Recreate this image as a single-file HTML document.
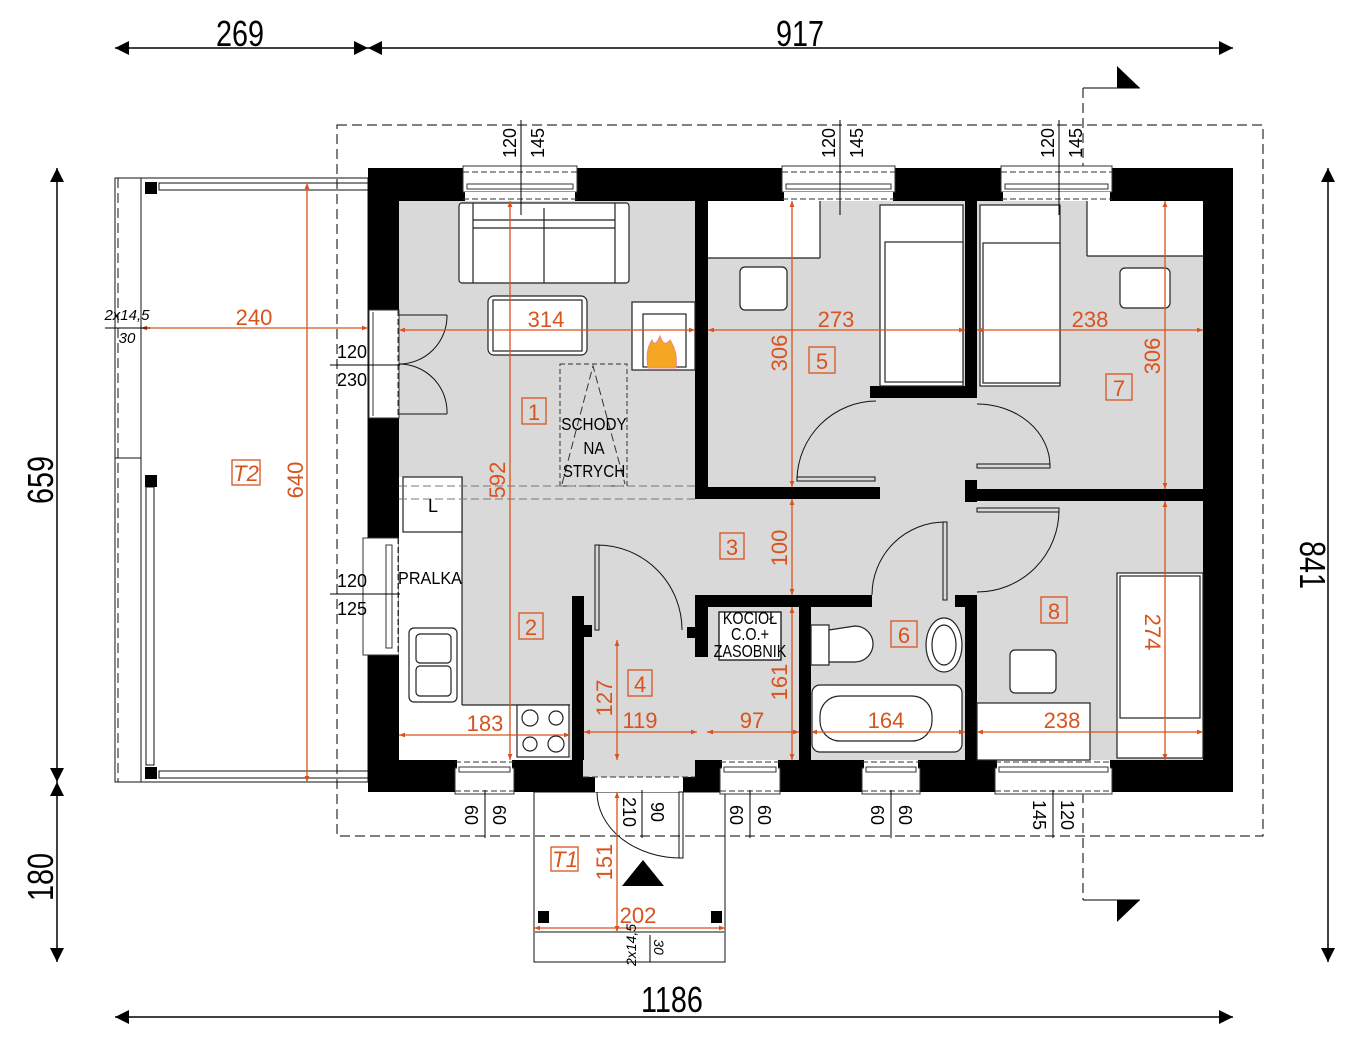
<!DOCTYPE html>
<html><head><meta charset="utf-8"><style>
html,body{margin:0;padding:0;background:#fff;}
svg{display:block;}
text{font-family:"Liberation Sans",sans-serif;}
.o{fill:#d9531e;font-size:22px;text-anchor:middle;}
.b{fill:#000;font-size:18px;text-anchor:middle;}
.big{fill:#000;font-size:36px;text-anchor:middle;}
.ol{stroke:#d9531e;stroke-width:1.3;fill:none;}
.f{fill:#fff;stroke:#222;stroke-width:1.2;}
.t{fill:none;stroke:#111;stroke-width:1;}
</style></head><body>
<svg width="1368" height="1050" viewBox="0 0 1368 1050" xmlns="http://www.w3.org/2000/svg">
<defs>
<marker id="ao" viewBox="0 0 10 10" refX="10" refY="5" markerWidth="12" markerHeight="6" orient="auto-start-reverse" markerUnits="userSpaceOnUse"><path d="M0,1 L10,5 L0,9z" fill="#d9531e"/></marker>
<marker id="ab" viewBox="0 0 10 10" refX="10" refY="5" markerWidth="28" markerHeight="14" orient="auto-start-reverse" markerUnits="userSpaceOnUse"><path d="M0,0 L10,5 L0,10z" fill="#000"/></marker>
</defs>

<g stroke="#000" stroke-width="1.5" fill="none">
<line x1="115" y1="48" x2="368" y2="48" marker-start="url(#ab)" marker-end="url(#ab)"/>
<line x1="368" y1="48" x2="1233" y2="48" marker-start="url(#ab)" marker-end="url(#ab)"/>
<line x1="115" y1="1017" x2="1233" y2="1017" marker-start="url(#ab)" marker-end="url(#ab)"/>
<line x1="57" y1="168" x2="57" y2="782" marker-start="url(#ab)" marker-end="url(#ab)"/>
<line x1="57" y1="782" x2="57" y2="962" marker-start="url(#ab)" marker-end="url(#ab)"/>
<line x1="1328" y1="168" x2="1328" y2="962" marker-start="url(#ab)" marker-end="url(#ab)"/>
</g>
<text class="big" transform="translate(240,46) scale(0.8,1)">269</text>
<text class="big" transform="translate(800,46) scale(0.8,1)">917</text>
<text class="big" transform="translate(672,1012) scale(0.8,1)">1186</text>
<text class="big" transform="translate(53,480) rotate(-90) scale(0.8,1)">659</text>
<text class="big" transform="translate(53,877) rotate(-90) scale(0.8,1)">180</text>
<text class="big" transform="translate(1300,565) rotate(90) scale(0.8,1)">841</text>

<rect x="337" y="125" width="926" height="711" fill="none" stroke="#000" stroke-width="1" stroke-dasharray="10,5"/>
<line x1="1083" y1="88" x2="1083" y2="900" stroke="#000" stroke-width="1" stroke-dasharray="10,5"/>
<polyline points="1083,88 1140,88" stroke="#000" fill="none"/>
<polyline points="1083,900 1140,900" stroke="#000" fill="none"/>
<path d="M1117,66 L1140,88 L1117,88z" fill="#000"/>
<path d="M1117,900 L1140,900 L1117,922z" fill="#000"/>

<g class="t">
<rect x="115" y="178" width="253" height="604"/>
<line x1="141" y1="178" x2="141" y2="782"/>
<rect x="115" y="178" width="26" height="280"/>
<line x1="118" y1="178" x2="118" y2="782" stroke-dasharray="10,5"/>
<rect x="159" y="183" width="209" height="7"/>
<rect x="159" y="771" width="209" height="7"/>
<rect x="146" y="487" width="8" height="278"/>
</g>
<rect x="145" y="182" width="12" height="12" fill="#000"/>
<rect x="145" y="475" width="12" height="12" fill="#000"/>
<rect x="145" y="767" width="12" height="12" fill="#000"/>

<g class="t">
<rect x="534" y="792" width="191" height="170"/>
<line x1="534" y1="932" x2="725" y2="932" stroke="#888" stroke-width="2"/>
</g>
<rect x="538" y="911" width="11" height="12" fill="#000"/>
<rect x="711" y="911" width="11" height="12" fill="#000"/>
<path d="M622,886 L664,886 L643,860z" fill="#000"/>

<rect x="399" y="201" width="804" height="559" fill="#d9d9d9"/>

<g fill="#000">
<rect x="368" y="168" width="865" height="33"/>
<rect x="368" y="760" width="865" height="32"/>
<rect x="368" y="168" width="31" height="624"/>
<rect x="1203" y="168" width="30" height="624"/>
<rect x="695" y="201" width="13" height="298"/>
<rect x="695" y="487" width="185" height="12"/>
<rect x="870" y="386" width="107" height="12"/>
<rect x="965" y="201" width="12" height="197"/>
<rect x="965" y="480" width="12" height="22"/>
<rect x="977" y="489" width="226" height="12"/>
<rect x="695" y="595" width="177" height="12"/>
<rect x="695" y="595" width="13" height="62"/>
<rect x="687" y="627" width="10" height="11"/>
<rect x="955" y="595" width="22" height="12"/>
<rect x="965" y="595" width="12" height="165"/>
<rect x="799" y="607" width="12" height="153"/>
<rect x="572" y="596" width="12" height="164"/>
<rect x="583" y="625" width="9" height="12"/>
</g>

<g fill="#fff" stroke="#333" stroke-width="1">
<rect x="463" y="166" width="114" height="26"/>
<rect x="782" y="166" width="113" height="26"/>
<rect x="1001" y="166" width="111" height="26"/>
<rect x="455" y="768" width="59" height="26"/>
<rect x="720" y="768" width="60" height="26"/>
<rect x="862" y="768" width="58" height="26"/>
<rect x="995" y="768" width="117" height="26"/>
<rect x="363" y="538" width="36" height="117"/>
<rect x="369" y="310" width="30" height="108"/>
</g>
<rect x="465" y="192" width="110" height="9" fill="#fff"/>
<rect x="784" y="192" width="109" height="9" fill="#fff"/>
<rect x="1003" y="192" width="107" height="9" fill="#fff"/>
<rect x="457" y="760" width="55" height="9" fill="#fff"/>
<rect x="722" y="760" width="56" height="9" fill="#fff"/>
<rect x="864" y="760" width="54" height="9" fill="#fff"/>
<rect x="997" y="760" width="113" height="9" fill="#fff"/>
<rect x="583" y="760" width="112" height="17" fill="#d9d9d9"/>
<rect x="595" y="777" width="88" height="15" fill="#fff"/>
<g stroke="#333" stroke-width="1" fill="none">
<line x1="463" y1="172" x2="577" y2="172" stroke-dasharray="6,3"/><rect x="467" y="184" width="106" height="5"/><line x1="463" y1="199" x2="577" y2="199" stroke-dasharray="6,3"/>
<line x1="782" y1="172" x2="895" y2="172" stroke-dasharray="6,3"/><rect x="786" y="184" width="105" height="5"/><line x1="782" y1="199" x2="895" y2="199" stroke-dasharray="6,3"/>
<line x1="1001" y1="172" x2="1112" y2="172" stroke-dasharray="6,3"/><rect x="1005" y="184" width="103" height="5"/><line x1="1001" y1="199" x2="1112" y2="199" stroke-dasharray="6,3"/>
<line x1="455" y1="762" x2="514" y2="762" stroke-dasharray="6,3"/><rect x="459" y="767" width="51" height="5"/><line x1="455" y1="791" x2="514" y2="791" stroke-dasharray="6,3"/>
<line x1="720" y1="762" x2="780" y2="762" stroke-dasharray="6,3"/><rect x="724" y="767" width="52" height="5"/><line x1="720" y1="791" x2="780" y2="791" stroke-dasharray="6,3"/>
<line x1="862" y1="762" x2="920" y2="762" stroke-dasharray="6,3"/><rect x="866" y="767" width="50" height="5"/><line x1="862" y1="791" x2="920" y2="791" stroke-dasharray="6,3"/>
<line x1="995" y1="762" x2="1112" y2="762" stroke-dasharray="6,3"/><rect x="999" y="767" width="109" height="5"/><line x1="995" y1="791" x2="1112" y2="791" stroke-dasharray="6,3"/>
<line x1="583" y1="777" x2="695" y2="777" stroke-dasharray="6,3"/>
<line x1="398" y1="310" x2="398" y2="418" stroke-dasharray="6,3"/>
<rect x="386" y="545" width="6" height="103"/>
<line x1="398" y1="538" x2="398" y2="655" stroke-dasharray="6,3"/>
<line x1="373" y1="312" x2="373" y2="416"/>
</g>

<g class="f">
<rect x="459" y="203" width="170" height="80" rx="3"/>
<line x1="473" y1="203" x2="473" y2="283"/><line x1="615" y1="203" x2="615" y2="283"/>
<line x1="544" y1="208" x2="544" y2="283"/>
<line x1="473" y1="220" x2="615" y2="220"/><line x1="473" y1="228" x2="615" y2="228"/>
<rect x="488" y="296" width="99" height="59" rx="6"/>
<rect x="493" y="300" width="89" height="51"/>
<rect x="632" y="302" width="63" height="68"/>
<rect x="643" y="314" width="43" height="53"/>
<rect x="399" y="477" width="63" height="228" stroke="none"/>
<rect x="399" y="705" width="171" height="55" stroke="none"/>
<line x1="462" y1="477" x2="462" y2="705"/><line x1="462" y1="705" x2="570" y2="705"/>
<rect x="403" y="477" width="59" height="55"/>
<rect x="409" y="628" width="48" height="74" rx="5"/>
<rect x="416" y="634" width="35" height="29" rx="4"/><rect x="416" y="666" width="35" height="30" rx="4"/>
<rect x="517" y="705" width="52" height="52"/>
<circle cx="530" cy="718" r="8"/><circle cx="556" cy="718" r="7"/><circle cx="530" cy="744" r="7"/><circle cx="556" cy="744" r="8"/>
<rect x="708" y="201" width="112" height="57" stroke="none"/><line x1="708" y1="258" x2="820" y2="258"/><line x1="820" y1="201" x2="820" y2="258"/>
<rect x="740" y="267" width="47" height="43" rx="5"/>
<rect x="880" y="205" width="83" height="181"/><rect x="885" y="242" width="78" height="140"/>
<rect x="980" y="205" width="80" height="181"/><rect x="983" y="243" width="77" height="140"/>
<rect x="1087" y="201" width="116" height="55" stroke="none"/><line x1="1087" y1="256" x2="1203" y2="256"/><line x1="1087" y1="201" x2="1087" y2="256"/>
<rect x="1120" y="268" width="50" height="40" rx="5"/>
<rect x="1117" y="573" width="86" height="185"/><rect x="1120" y="576" width="80" height="142"/>
<rect x="977" y="703" width="113" height="57"/>
<rect x="1010" y="650" width="46" height="43" rx="5"/>
<rect x="811" y="625" width="18" height="40"/><path d="M829,630 L855,626 A17,17 0 0 1 855,662 L829,662z"/>
<ellipse cx="944" cy="645" rx="18" ry="27"/><ellipse cx="944" cy="645" rx="12" ry="20"/>
<rect x="812" y="685" width="150" height="67" rx="8"/><rect x="820" y="696" width="112" height="45" rx="20"/>
<rect x="719" y="612" width="62" height="48" stroke="#000"/>
</g>
<path d="M648,368 Q645,350 652,340 Q655,348 660,336 Q664,348 670,340 Q678,352 676,368z" fill="#f5a623" stroke="#e88"/>
<rect x="560" y="364" width="67" height="122" fill="none" stroke="#333" stroke-dasharray="5,3"/>
<path d="M562,484 L593,366 L625,484" fill="none" stroke="#333" stroke-dasharray="8,4"/>
<line x1="399" y1="486" x2="695" y2="486" stroke="#777" stroke-dasharray="8,4"/>
<line x1="399" y1="499" x2="695" y2="499" stroke="#777" stroke-dasharray="8,4"/>
<text class="b" transform="translate(594,430) scale(0.85,1)" font-size="17">SCHODY</text>
<text class="b" transform="translate(594,454) scale(0.85,1)" font-size="17">NA</text>
<text class="b" transform="translate(594,477) scale(0.85,1)" font-size="17">STRYCH</text>
<text class="b" transform="translate(430,584) scale(0.9,1)" font-size="17">PRALKA</text>
<text class="b" x="433" y="512" font-size="15">L</text>
<text class="b" transform="translate(750,624) scale(0.8,1)" font-size="11">KOCIOŁ</text>
<text class="b" transform="translate(750,640) scale(0.8,1)" font-size="11">C.O.+</text>
<text class="b" transform="translate(750,657) scale(0.8,1)" font-size="11">ZASOBNIK</text>

<g fill="none" stroke="#111" stroke-width="1">
<line x1="399" y1="315" x2="447" y2="315"/><path d="M447,315 A48,48 0 0 1 399,364"/>
<line x1="399" y1="414" x2="447" y2="414"/><path d="M447,414 A48,48 0 0 0 399,364"/>
<rect x="797" y="477" width="78" height="4"/><path d="M797,479 A80,80 0 0 1 876,401"/>
<rect x="977" y="464" width="73" height="4"/><path d="M1050,466 A73,62 0 0 0 977,404"/>
<rect x="977" y="508" width="82" height="4"/><path d="M1059,510 A82,82 0 0 1 977,592"/>
<rect x="943" y="522" width="4" height="78"/><path d="M945,522 A73,73 0 0 0 872,595"/>
<rect x="595" y="545" width="4" height="85"/><path d="M597,545 A85,85 0 0 1 682,630"/>
<rect x="679" y="792" width="4" height="66"/><path d="M597,792 A84,66 0 0 0 681,858"/>
</g>

<g class="ol">
<line x1="141" y1="328" x2="368" y2="328" marker-start="url(#ao)" marker-end="url(#ao)"/>
<line x1="307" y1="183" x2="307" y2="782" marker-start="url(#ao)" marker-end="url(#ao)"/>
<line x1="399" y1="330" x2="695" y2="330" marker-start="url(#ao)" marker-end="url(#ao)"/>
<line x1="510" y1="201" x2="510" y2="760" marker-start="url(#ao)" marker-end="url(#ao)"/>
<line x1="708" y1="330" x2="965" y2="330" marker-start="url(#ao)" marker-end="url(#ao)"/>
<line x1="792" y1="201" x2="792" y2="487" marker-start="url(#ao)" marker-end="url(#ao)"/>
<line x1="977" y1="330" x2="1203" y2="330" marker-start="url(#ao)" marker-end="url(#ao)"/>
<line x1="1165" y1="201" x2="1165" y2="489" marker-start="url(#ao)" marker-end="url(#ao)"/>
<line x1="792" y1="499" x2="792" y2="595" marker-start="url(#ao)" marker-end="url(#ao)"/>
<line x1="792" y1="607" x2="792" y2="760" marker-start="url(#ao)" marker-end="url(#ao)"/>
<line x1="399" y1="735" x2="570" y2="735" marker-start="url(#ao)" marker-end="url(#ao)"/>
<line x1="584" y1="732" x2="697" y2="732" marker-start="url(#ao)" marker-end="url(#ao)"/>
<line x1="707" y1="732" x2="799" y2="732" marker-start="url(#ao)" marker-end="url(#ao)"/>
<line x1="617" y1="640" x2="617" y2="760" marker-start="url(#ao)" marker-end="url(#ao)"/>
<line x1="811" y1="732" x2="965" y2="732" marker-start="url(#ao)" marker-end="url(#ao)"/>
<line x1="977" y1="732" x2="1203" y2="732" marker-start="url(#ao)" marker-end="url(#ao)"/>
<line x1="1165" y1="501" x2="1165" y2="760" marker-start="url(#ao)" marker-end="url(#ao)"/>
<line x1="617" y1="792" x2="617" y2="932" marker-start="url(#ao)" marker-end="url(#ao)"/>
<line x1="534" y1="928" x2="725" y2="928" marker-start="url(#ao)" marker-end="url(#ao)"/>
<rect x="522" y="398" width="24" height="26"/><rect x="519" y="613" width="24" height="26"/>
<rect x="720" y="533" width="24" height="26"/><rect x="628" y="670" width="24" height="26"/>
<rect x="809" y="347" width="26" height="26"/><rect x="891" y="621" width="26" height="26"/>
<rect x="1106" y="374" width="26" height="26"/><rect x="1041" y="597" width="26" height="26"/>
<rect x="551" y="847" width="27" height="24"/><rect x="232" y="460" width="28" height="25"/>
</g>
<g class="o">
<text x="254" y="325">240</text>
<text transform="translate(303,480) rotate(-90)">640</text>
<text x="546" y="327">314</text>
<text transform="translate(505,480) rotate(-90)">592</text>
<text x="836" y="327">273</text>
<text transform="translate(787,353) rotate(-90)">306</text>
<text x="1090" y="327">238</text>
<text transform="translate(1160,356) rotate(-90)">306</text>
<text transform="translate(787,548) rotate(-90)">100</text>
<text transform="translate(787,682) rotate(-90)">161</text>
<text x="485" y="731">183</text>
<text x="640" y="728">119</text>
<text x="752" y="728">97</text>
<text transform="translate(612,698) rotate(-90)">127</text>
<text x="886" y="728">164</text>
<text x="1062" y="728">238</text>
<text transform="translate(1145,632) rotate(90)">274</text>
<text transform="translate(612,862) rotate(-90)">151</text>
<text x="638" y="923">202</text>
<text x="534" y="420">1</text><text x="531" y="635">2</text><text x="732" y="555">3</text><text x="640" y="692">4</text>
<text x="822" y="369">5</text><text x="904" y="643">6</text><text x="1119" y="396">7</text><text x="1054" y="619">8</text>
<text x="565" y="867" font-style="italic">T1</text><text x="246" y="481" font-style="italic">T2</text>
</g>

<g stroke="#000" stroke-width="1">
<line x1="521" y1="120" x2="521" y2="215"/><line x1="840" y1="120" x2="840" y2="215"/><line x1="1059" y1="120" x2="1059" y2="215"/>
<line x1="485" y1="790" x2="485" y2="838"/><line x1="750" y1="790" x2="750" y2="838"/><line x1="891" y1="790" x2="891" y2="838"/><line x1="1053" y1="790" x2="1053" y2="838"/>
<line x1="642" y1="790" x2="642" y2="838"/>
<line x1="330" y1="365" x2="400" y2="365"/><line x1="330" y1="594" x2="400" y2="594"/>
<line x1="105" y1="328" x2="150" y2="328"/>
<line x1="650" y1="935" x2="650" y2="962"/>
</g>
<g class="b">
<text transform="translate(516,143) rotate(-90)">120</text><text transform="translate(544,143) rotate(-90)">145</text>
<text transform="translate(835,143) rotate(-90)">120</text><text transform="translate(863,143) rotate(-90)">145</text>
<text transform="translate(1054,143) rotate(-90)">120</text><text transform="translate(1082,143) rotate(-90)">145</text>
<text transform="translate(465,815) rotate(90)">60</text><text transform="translate(493,815) rotate(90)">60</text>
<text transform="translate(730,815) rotate(90)">60</text><text transform="translate(758,815) rotate(90)">60</text>
<text transform="translate(871,815) rotate(90)">60</text><text transform="translate(899,815) rotate(90)">60</text>
<text transform="translate(1033,815) rotate(90)">145</text><text transform="translate(1061,815) rotate(90)">120</text>
<text transform="translate(623,812) rotate(90)">210</text><text transform="translate(651,812) rotate(90)">90</text>
<text x="352" y="358">120</text><text x="352" y="386">230</text>
<text x="352" y="587">120</text><text x="352" y="615">125</text>
<text x="127" y="320" font-size="15" font-style="italic">2x14,5</text>
<text x="127" y="343" font-size="15" font-style="italic">30</text>
<text transform="translate(636,945) rotate(-90)" font-size="14" font-style="italic">2x14,5</text>
<text transform="translate(654,947) rotate(90)" font-size="14" font-style="italic">30</text>
</g>
</svg>
</body></html>
